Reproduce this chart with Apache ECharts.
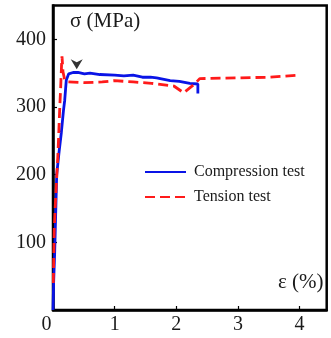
<!DOCTYPE html>
<html>
<head>
<meta charset="utf-8">
<script src="https://cdn.jsdelivr.net/npm/echarts@6/dist/echarts.min.js"></script>
<style>html,body{margin:0;padding:0;background:#fff}#c{width:331px;height:338px}</style>
</head>
<body>
<div id="c"></div>
<script>
// strain (%) and stress (MPa)
const compressionStrain = [0.0, 0.01, 0.027, 0.06, 0.1, 0.135, 0.17, 0.19, 0.216, 0.255, 0.325, 0.405, 0.51, 0.6, 0.76, 1.0, 1.15, 1.3, 1.45, 1.58, 1.68, 1.9, 2.05, 2.22, 2.35, 2.35];
const compressionStress = [0, 40, 84, 200, 235, 262, 295, 310, 340, 349, 351, 351, 349, 350, 348, 347, 346, 347, 344, 344, 343, 339, 338, 335, 334, 320];
const tensionStrain = [0.005, 0.02, 0.045, 0.08, 0.11, 0.125, 0.14, 0.146, 0.162, 0.19, 0.25, 0.5, 0.8, 1.0, 1.3, 1.6, 1.96, 2.12, 2.31, 2.38, 3.0, 3.5, 3.96];
const tensionStress = [40, 120, 170, 230, 300, 330, 365, 375, 352, 340, 337, 336, 337, 339, 337, 335, 331, 321, 335, 342, 343, 344, 347];
const peakMarker = [[0.385, 363]];
const xTicks = [0, 1, 2, 3, 4];
const yTicks = [100, 200, 300, 400];
const seriesNames = ['Compression test', 'Tension test'];

const zip = (a, b) => a.map((v, i) => [v, b[i]]);
const FONT = "'Liberation Serif', 'DejaVu Serif', serif";

const chart = echarts.init(document.getElementById('c'), null, {renderer: 'canvas'});
chart.setOption({
  animation: false,
  backgroundColor: '#fff',
  grid: {left: 53, right: 4.3, top: 5.5, bottom: 28, show: true, borderColor: '#000', borderWidth: 2.5, backgroundColor: 'transparent'},
  xAxis: {
    type: 'value', min: 0, max: 4.44, interval: 1,
    axisLine: {show: true, lineStyle: {color: '#000', width: 2.5}},
    axisTick: {show: true, inside: true, length: 4, lineStyle: {color: '#000', width: 1.2}},
    splitLine: {show: false},
    axisLabel: {
      showMaxLabel: false, margin: 5,
      color: '#1a1a1a', fontFamily: FONT, fontSize: 20,
      formatter: v => xTicks.includes(v) ? (v === 0 ? '{z|0}' : String(v)) : '',
      rich: {z: {fontFamily: FONT, fontSize: 20, color: '#1a1a1a', padding: [0, 13, 0, 0]}}
    }
  },
  yAxis: {
    type: 'value', min: 0, max: 450, interval: 100,
    axisLine: {show: true, lineStyle: {color: '#000', width: 2.5}},
    axisTick: {show: true, inside: true, length: 4, lineStyle: {color: '#000', width: 1.2}},
    splitLine: {show: false},
    axisLabel: {
      showMinLabel: false, showMaxLabel: false, margin: 7,
      color: '#1a1a1a', fontFamily: FONT, fontSize: 20,
      formatter: v => yTicks.includes(v) ? String(v) : ''
    }
  },
  legend: {
    data: seriesNames,
    orient: 'vertical', left: 144, top: 164, padding: 0,
    itemWidth: 41, itemHeight: 14, itemGap: 9,
    itemStyle: {opacity: 0},
    textStyle: {fontFamily: FONT, fontSize: 16, color: '#1a1a1a', padding: [0, 0, 0, 3]}
  },
  graphic: [
    {type: 'text', left: 70, top: 11, style: {text: 'σ (MPa)', font: "21px 'Liberation Serif'", fill: '#1a1a1a'}},
    {type: 'text', left: 278, top: 272, style: {text: 'ε (%)', font: "21px 'Liberation Serif'", fill: '#1a1a1a'}}
  ],
  series: [
    {name: seriesNames[0], type: 'line', data: zip(compressionStrain, compressionStress), symbol: 'none',
     lineStyle: {color: '#0a14e6', width: 2.8}, itemStyle: {color: '#0a14e6'}, z: 3},
    {name: seriesNames[1], type: 'line', data: zip(tensionStrain, tensionStress), symbol: 'none',
     lineStyle: {color: '#ff1a1a', width: 2.8, type: [10, 5]}, itemStyle: {color: '#ff1a1a'}, z: 4},
    {name: 'peak', type: 'scatter', data: peakMarker,
     symbol: 'path://M0,0 L5,3 L10,0 L5,10 Z', symbolSize: [12, 10],
     itemStyle: {color: '#000'}, z: 5}
  ]
});
</script>
</body>
</html>
